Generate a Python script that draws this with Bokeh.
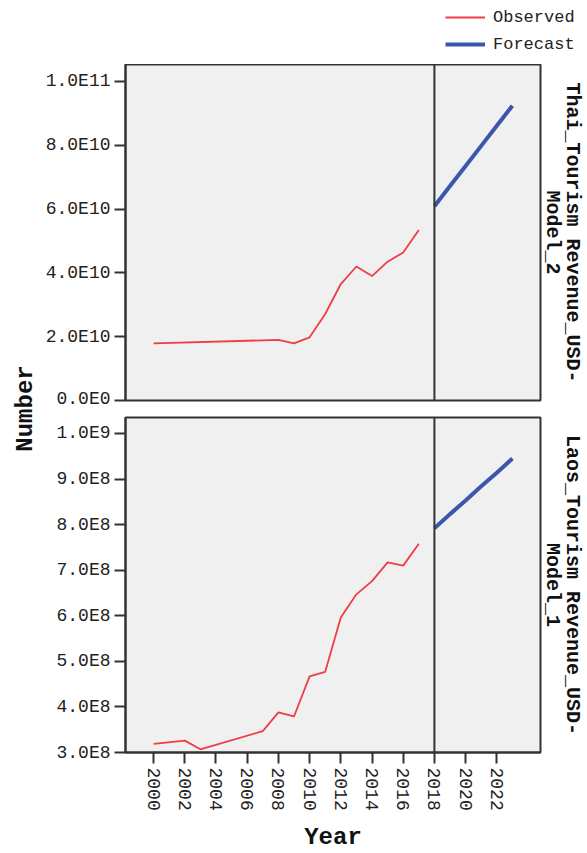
import math
from bokeh.plotting import figure
from bokeh.models import Range1d, FixedTicker, LinearAxis, Span, Legend, LegendItem
from bokeh.layouts import row, column
from bokeh.embed import file_html
from bokeh.resources import INLINE
from bokeh.core.properties import value

# ---------------- data ----------------
thai_obs_years = [2000, 2008, 2009, 2010, 2011, 2012, 2013, 2014, 2015, 2016, 2017]
thai_obs_values = [1.79e10, 1.90e10, 1.79e10, 1.98e10, 2.71e10, 3.65e10, 4.20e10, 3.90e10, 4.35e10, 4.64e10, 5.34e10]
thai_fc_years = [2018, 2019, 2020, 2021, 2022, 2023]
thai_fc_values = [6.09e10, 6.72e10, 7.35e10, 7.98e10, 8.61e10, 9.24e10]

laos_obs_years = [2000, 2002, 2003, 2007, 2008, 2009, 2010, 2011, 2012, 2013, 2014, 2015, 2016, 2017]
laos_obs_values = [3.19e8, 3.26e8, 3.07e8, 3.47e8, 3.88e8, 3.79e8, 4.67e8, 4.77e8, 5.96e8, 6.47e8, 6.76e8, 7.17e8, 7.10e8, 7.58e8]
laos_fc_years = [2018, 2019, 2020, 2021, 2022, 2023]
laos_fc_values = [7.92e8, 8.23e8, 8.53e8, 8.84e8, 9.14e8, 9.45e8]

forecast_origin = 2018

top_ticks = [0.0, 2e10, 4e10, 6e10, 8e10, 1e11]
top_tick_labels = ["0.0E0", "2.0E10", "4.0E10", "6.0E10", "8.0E10", "1.0E11"]
bottom_ticks = [3e8, 4e8, 5e8, 6e8, 7e8, 8e8, 9e8, 1e9]
bottom_tick_labels = ["3.0E8", "4.0E8", "5.0E8", "6.0E8", "7.0E8", "8.0E8", "9.0E8", "1.0E9"]
year_ticks = [2000, 2002, 2004, 2006, 2008, 2010, 2012, 2014, 2016, 2018, 2020, 2022]

top_title = "Thai_Tourism Revenue_USD-\nModel_2"
bottom_title = "Laos_Tourism Revenue_USD-\nModel_1"
x_title = "Year"
y_title = "Number"
legend_labels = ["Observed", "Forecast"]

# ---------------- style ----------------
MONO = "Liberation Mono"
RED = "#f03c46"
BLUE = "#3b56ad"
DARK = "#333333"
X_RANGE = (1998.2, 2024.8)
MAIN_W = 549
NAN = float("nan")


def make_panel(height, y_range, ticks, labels, title, with_x):
    p = figure(width=MAIN_W, height=height, x_range=Range1d(*X_RANGE), y_range=Range1d(*y_range),
               toolbar_location=None, output_backend="svg",
               x_axis_location="below" if with_x else None,
               min_border_left=87, min_border_right=44,
               min_border_top=0 if not with_x else 9,
               min_border_bottom=8 if not with_x else 10)
    p.background_fill_color = "#f0f0f0"
    p.border_fill_color = "white"
    p.outline_line_color = DARK
    p.outline_line_width = 2
    p.grid.visible = False

    ax = p.yaxis[0]
    ax.ticker = FixedTicker(ticks=ticks)
    ax.major_label_overrides = {t: l for t, l in zip(ticks, labels)}
    ax.major_label_text_font = MONO
    ax.major_label_text_font_size = "18px"
    ax.major_label_text_color = "#222222"
    ax.major_label_standoff = 4
    ax.major_tick_out = 11
    ax.major_tick_in = 0
    ax.major_tick_line_width = 2
    ax.major_tick_line_color = DARK
    ax.minor_tick_line_color = None
    ax.axis_line_color = DARK
    ax.axis_line_width = 2

    rax = LinearAxis(ticker=FixedTicker(ticks=[]), axis_label=title,
                     axis_line_color=None, major_tick_line_color=None, minor_tick_line_color=None,
                     major_label_text_font_size="0px",
                     axis_label_text_font=MONO, axis_label_text_font_style="bold",
                     axis_label_text_font_size="20px", axis_label_text_color="#111111",
                     axis_label_standoff=0, axis_label_text_line_height=0.9)
    p.add_layout(rax, "right")

    if with_x:
        xa = p.xaxis[0]
        xa.ticker = FixedTicker(ticks=year_ticks)
        xa.major_label_orientation = -math.pi / 2
        xa.major_label_text_font = MONO
        xa.major_label_text_font_size = "18px"
        xa.major_label_text_color = "#222222"
        xa.major_label_standoff = 4
        xa.major_tick_out = 11
        xa.major_tick_in = 0
        xa.major_tick_line_width = 2
        xa.major_tick_line_color = DARK
        xa.minor_tick_line_color = None
        xa.axis_line_color = DARK
        xa.axis_line_width = 2
        xa.axis_label = x_title
        xa.axis_label_text_font = MONO
        xa.axis_label_text_font_style = "bold"
        xa.axis_label_text_font_size = "24px"
        xa.axis_label_text_color = "#111111"
        xa.axis_label_text_line_height = 1.0
        xa.axis_label_standoff = 10

    p.add_layout(Span(location=forecast_origin, dimension="height", line_color=DARK, line_width=2))
    return p


# legend strip (full width, above everything)
leg = figure(width=587, height=64, x_range=Range1d(0, 1), y_range=Range1d(0, 1),
             toolbar_location=None, output_backend="svg", min_border=0,
             x_axis_location=None, y_axis_location=None)
leg.outline_line_color = None
leg.grid.visible = False
lr_obs = leg.line([NAN], [NAN], line_color=RED, line_width=1.8)
lr_fc = leg.line([NAN], [NAN], line_color=BLUE, line_width=4)
legend = Legend(items=[LegendItem(label=legend_labels[0], renderers=[lr_obs]),
                       LegendItem(label=legend_labels[1], renderers=[lr_fc])],
                location=(445, 10), border_line_color=None, background_fill_alpha=0,
                label_text_font=MONO, label_text_font_size="17px", label_text_color="#222222",
                glyph_width=40, glyph_height=20, label_height=20, spacing=7, padding=3,
                label_standoff=8, margin=0)
leg.add_layout(legend)

top = make_panel(344, (0, 1.053e11), top_ticks, top_tick_labels, top_title, False)
top.line(thai_obs_years, thai_obs_values, line_color=RED, line_width=1.8)
top.line(thai_fc_years, thai_fc_values, line_color=BLUE, line_width=4)

bottom = make_panel(445, (3.0e8, 1.035e9), bottom_ticks, bottom_tick_labels, bottom_title, True)
bottom.line(laos_obs_years, laos_obs_values, line_color=RED, line_width=1.8)
bottom.line(laos_fc_years, laos_fc_values, line_color=BLUE, line_width=4)

side = figure(width=38, height=789, x_range=Range1d(0, 1), y_range=Range1d(0, 1),
              toolbar_location=None, output_backend="svg", min_border=0,
              x_axis_location=None, y_axis_location=None)
side.outline_line_color = None
side.grid.visible = False
side.text(x=[0.658], y=[0.564], text=[y_title], angle=math.pi / 2, text_align="center",
          text_baseline="middle", text_font=value(MONO), text_font_style="bold",
          text_font_size="24px", text_color="#111111")

layout = column(leg, row(side, column(top, bottom)))
open("out.html", "w").write(file_html(layout, INLINE))
